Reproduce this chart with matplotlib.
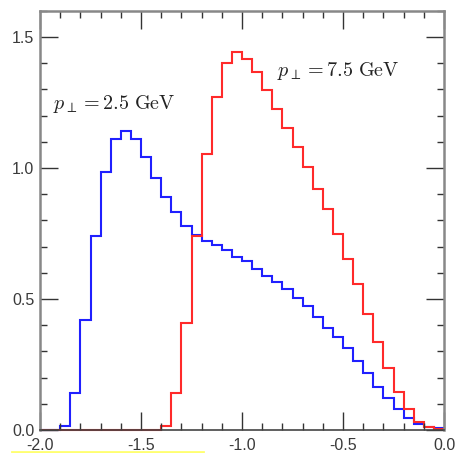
import numpy as np
import matplotlib
matplotlib.use("Agg")
import matplotlib.pyplot as plt
from matplotlib.lines import Line2D
from matplotlib.ticker import MultipleLocator, FormatStrFormatter

######################### DATA #########################

# 40 bins of width 0.05 from -2.0 to 0.0
bin_edges = np.round(np.arange(-2.0, 0.0001, 0.05), 2)

blue_values = [0.0, 0.0, 0.015, 0.14, 0.42, 0.74, 0.985, 1.11, 1.14, 1.11,
               1.04, 0.96, 0.89, 0.83, 0.78, 0.746, 0.72, 0.706, 0.688, 0.662,
               0.645, 0.615, 0.586, 0.565, 0.539, 0.505, 0.472, 0.431, 0.391, 0.353,
               0.311, 0.264, 0.216, 0.165, 0.121, 0.080, 0.045, 0.023, 0.010, 0.008]

red_values = [0.0, 0.0, 0.0, 0.0, 0.0, 0.0, 0.0, 0.0, 0.0, 0.0,
              0.0, 0.0, 0.015, 0.14, 0.41, 0.742, 1.053, 1.269, 1.40, 1.443,
              1.415, 1.367, 1.297, 1.225, 1.152, 1.078, 1.005, 0.92, 0.844, 0.749,
              0.651, 0.556, 0.444, 0.334, 0.235, 0.146, 0.08, 0.03, 0.01, 0.004]

labels = [r"$p_\perp = 2.5\ \mathrm{GeV}$", r"$p_\perp = 7.5\ \mathrm{GeV}$"]

######################### PLOT #########################

plt.rcParams.update({
    "font.family": "Liberation Sans",
    "mathtext.fontset": "cm",
})

fig = plt.figure(figsize=(4.55, 4.53), dpi=100)
ax = fig.add_axes([40 / 455, 23 / 453, 404 / 455, 419.3 / 453])

ax.stairs(blue_values, bin_edges, color="#2020ff", linewidth=1.5, clip_on=False)
ax.stairs(red_values, bin_edges, color="#ff2a2a", linewidth=1.5, clip_on=False)

ax.set_xlim(-2.0, 0.0)
ax.set_ylim(0.0, 1.6)

ax.xaxis.set_major_locator(MultipleLocator(0.5))
ax.xaxis.set_minor_locator(MultipleLocator(0.1))
ax.yaxis.set_major_locator(MultipleLocator(0.5))
ax.yaxis.set_minor_locator(MultipleLocator(0.1))
ax.xaxis.set_major_formatter(FormatStrFormatter("%.1f"))
ax.yaxis.set_major_formatter(FormatStrFormatter("%.1f"))

ax.tick_params(which="both", direction="in", top=True, right=True, color="#333333")
ax.tick_params(which="major", length=13, width=1.0, labelsize=11.5, labelcolor="#3a3a3a")
ax.tick_params(which="minor", length=5, width=1.0)
ax.tick_params(axis="x", which="major", pad=5.5)
ax.tick_params(axis="y", which="major", pad=4)

for sp in ax.spines.values():
    sp.set_color("#888888")
    sp.set_linewidth(1.8)
ax.spines["bottom"].set_color("#444444")
ax.spines["bottom"].set_linewidth(1.2)

ax.text(-1.936, 1.226, labels[0], fontsize=14.5, color="#222222")
ax.text(-0.825, 1.351, labels[1], fontsize=14.5, color="#222222")

# faint yellow highlight under the bottom-left tick labels
fig.add_artist(Line2D([12 / 455, 203 / 455], [1.5 / 453, 1.5 / 453],
                      color="#ffff70", linewidth=2))

fig.savefig("out.png", dpi=100)
plt.close(fig)
